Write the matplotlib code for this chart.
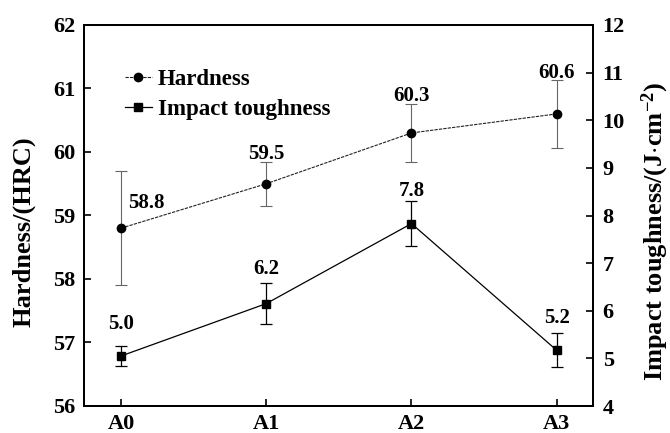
import matplotlib
matplotlib.use("Agg")
import matplotlib.pyplot as plt

# ---- data ----
categories = ["A0", "A1", "A2", "A3"]
hardness = [58.8, 59.5, 60.3, 60.6]
hardness_err = [0.9, 0.35, 0.45, 0.54]
hardness_labels = ["58.8", "59.5", "60.3", "60.6"]
toughness = [5.05, 6.15, 7.83, 5.17]
toughness_err = [0.2, 0.43, 0.47, 0.36]
toughness_labels = ["5.0", "6.2", "7.8", "5.2"]
left_ticks = [56, 57, 58, 59, 60, 61, 62]
right_ticks = [4, 5, 6, 7, 8, 9, 10, 11, 12]

plt.rcParams['font.family'] = ['Liberation Serif', 'DejaVu Serif']
plt.rcParams['font.weight'] = 'bold'
plt.rcParams['mathtext.fontset'] = 'custom'
plt.rcParams['mathtext.rm'] = 'Liberation Serif:bold'
plt.rcParams['mathtext.bf'] = 'Liberation Serif:bold'
plt.rcParams['mathtext.it'] = 'Liberation Serif:bold'

fig = plt.figure(figsize=(6.7, 4.33), dpi=100)
ax = fig.add_axes([84/670, 27/433, 509/670, 381/433])
ax2 = ax.twinx()

x = list(range(len(categories)))

h_line = ax.errorbar(x, hardness, yerr=hardness_err, color='#222222', lw=0.8,
                     ls=(0, (3, 1)), marker='o', ms=6, mfc='black', mec='black',
                     ecolor='#666666', elinewidth=0.8, capsize=4, capthick=0.8,
                     zorder=3)
t_line = ax2.errorbar(x, toughness, yerr=toughness_err, color='black', lw=0.9,
                      marker='s', ms=5.5, mfc='black', mec='black',
                      ecolor='black', elinewidth=0.9, capsize=4, capthick=0.9,
                      zorder=3)

ax.set_xlim(-0.255, 3.25)
ax.set_ylim(56, 62)
ax2.set_ylim(4, 12)
ax.set_xticks(x)
ax.set_xticklabels(categories)
ax.set_yticks(left_ticks)
ax2.set_yticks(right_ticks)

for a in (ax, ax2):
    for s in a.spines.values():
        s.set_linewidth(1.4)
ax.tick_params(axis='both', direction='in', length=5, width=1.2, labelsize=16)
ax.tick_params(axis='x', pad=5.5, top=False)
ax.tick_params(axis='y', pad=6, right=False)
ax2.tick_params(axis='y', direction='in', length=5, width=1.2, labelsize=16, pad=7)

ax.set_ylabel("Hardness/(HRC)", fontsize=19, fontweight='bold')
ax2.set_ylabel(r"Impact toughness/(J$\cdot$cm$^{-2}$)", fontsize=19, fontweight='bold')
ax.yaxis.set_label_coords(-0.096, 0.457)
ax2.yaxis.set_label_coords(1.092, 0.457)

# value labels
h_offsets = [(18, 18), (0, 5.5), (0, 6), (0, 5)]
for xi, v, e, lab, off in zip(x, hardness, hardness_err, hardness_labels, h_offsets):
    base = v if off[0] != 0 else v + e
    ax.annotate(lab, xy=(xi, base), xytext=off, textcoords='offset points',
                ha='center', va='center', fontsize=15, fontweight='bold')
t_offsets = [(0, 16), (0, 10), (0, 7), (0, 11)]
for xi, v, e, lab, off in zip(x, toughness, toughness_err, toughness_labels, t_offsets):
    ax2.annotate(lab, xy=(xi, v + e), xytext=off, textcoords='offset points',
                 ha='center', va='center', fontsize=15, fontweight='bold')

ax.legend([h_line[0], t_line[0]], ['Hardness', 'Impact toughness'],
          loc='upper left', bbox_to_anchor=(0.08, 0.885), frameon=False,
          fontsize=16.5, handlelength=1.2, handletextpad=0.25, labelspacing=0.4,
          borderaxespad=0, borderpad=0)

fig.savefig("out.png", dpi=100)
